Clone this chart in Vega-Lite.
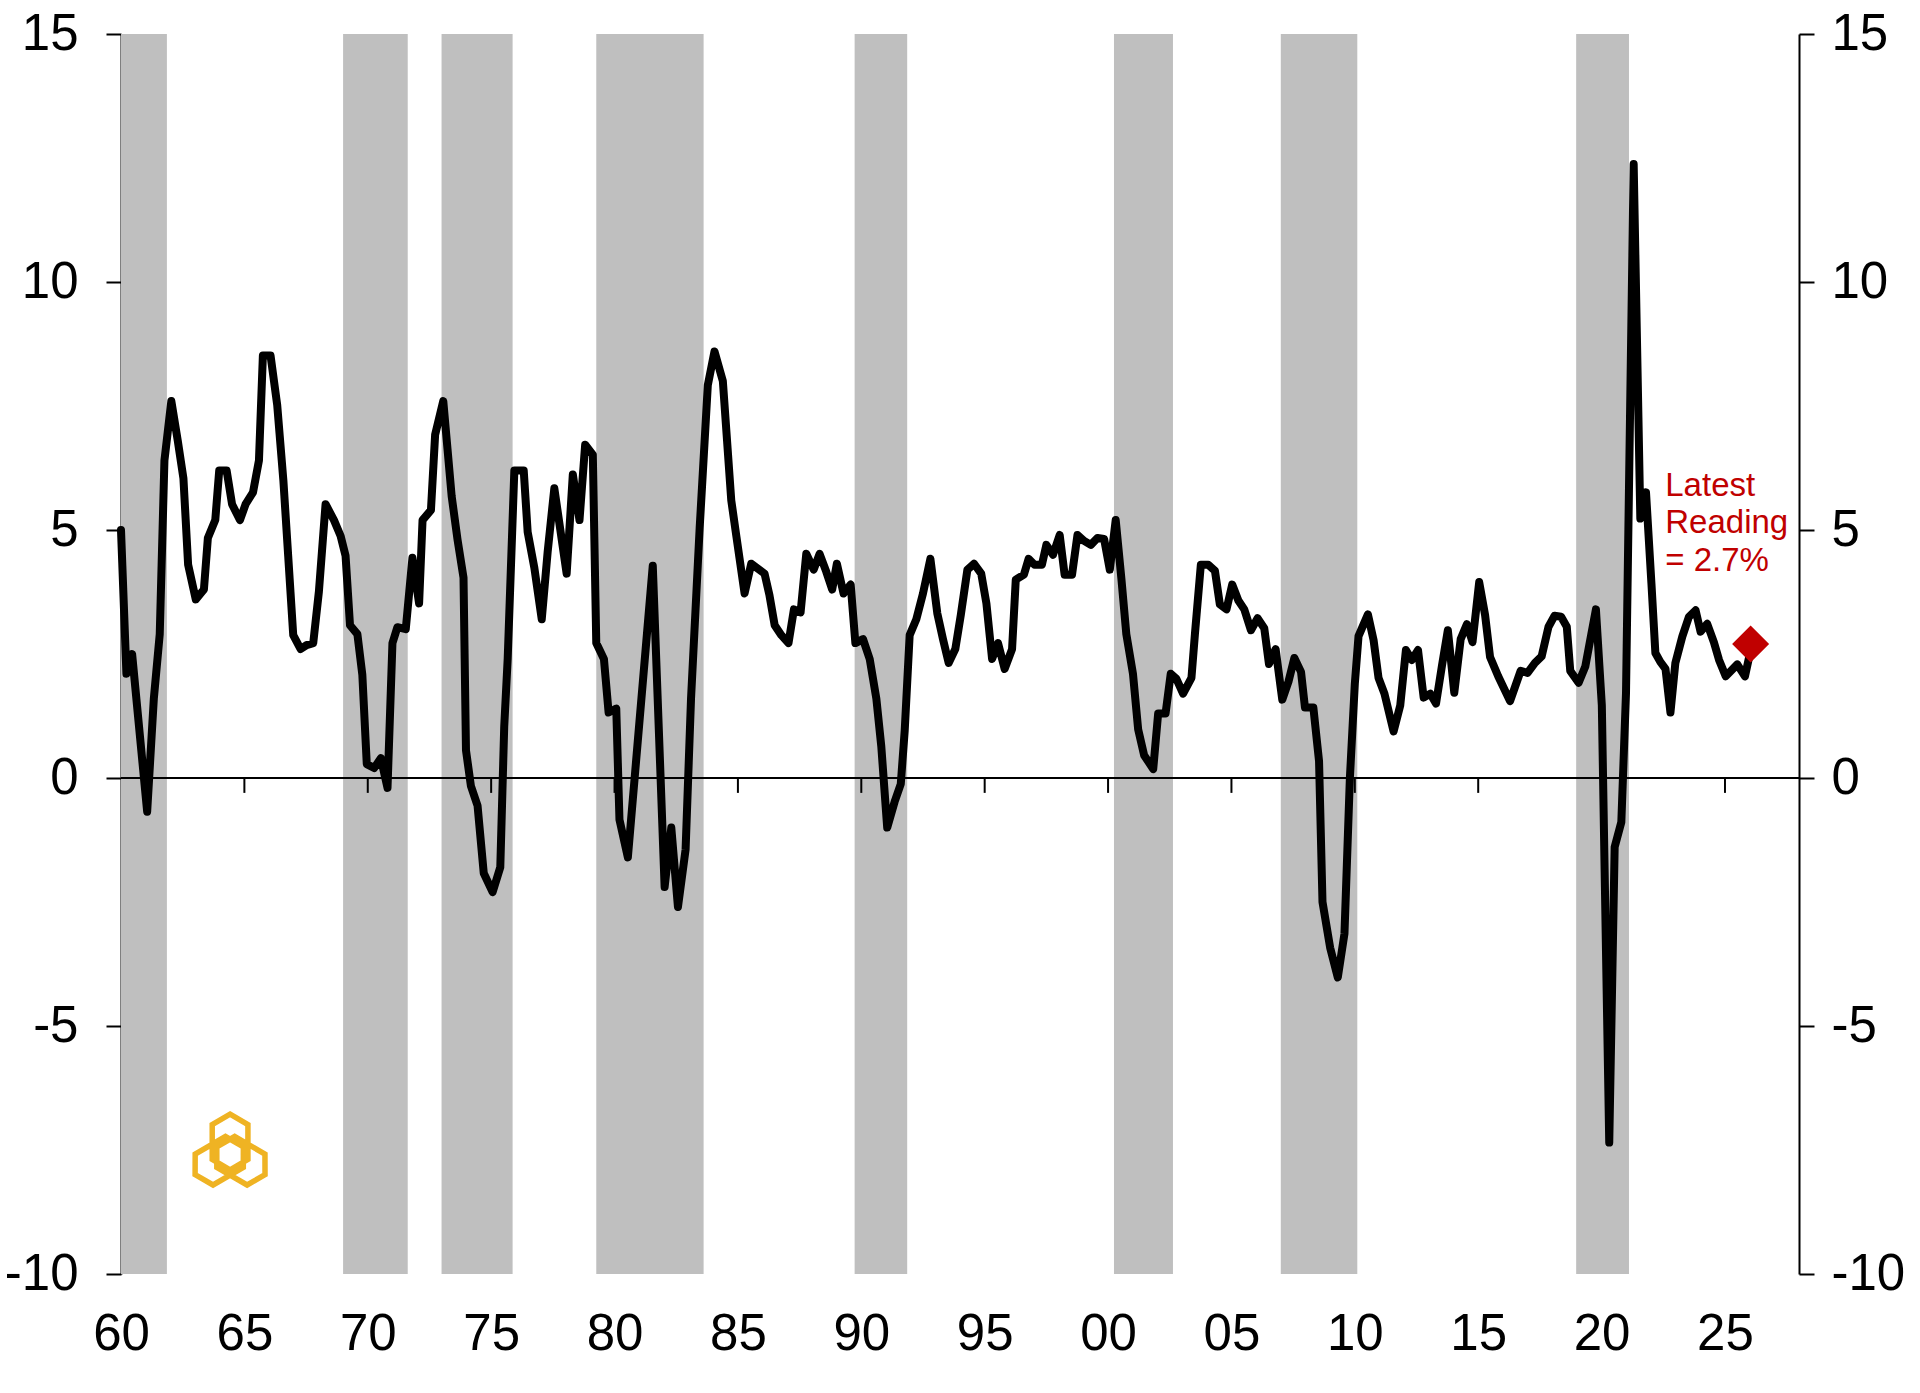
{
  "$schema": "https://vega.github.io/schema/vega-lite/v6.json",
  "width": 1678,
  "height": 1240,
  "autosize": {"type": "none"},
  "padding": {"left": 121, "top": 34, "right": 121, "bottom": 119},
  "background": "white",
  "config": {
    "view": {"stroke": null},
    "font": "Liberation Sans",
    "axis": {
      "labelFont": "Liberation Sans",
      "labelFontSize": 51,
      "labelColor": "#000000",
      "domainColor": "#000000",
      "domainWidth": 2,
      "tickColor": "#000000",
      "tickWidth": 2,
      "tickSize": 15,
      "grid": false
    }
  },
  "datasets": {
    "recessions": [
      {"start": 1960.0, "end": 1961.86},
      {"start": 1969.0, "end": 1971.62},
      {"start": 1972.99, "end": 1975.87},
      {"start": 1979.26, "end": 1983.61},
      {"start": 1989.73, "end": 1991.86},
      {"start": 2000.24, "end": 2002.63},
      {"start": 2007.0, "end": 2010.1},
      {"start": 2018.97, "end": 2021.11}
    ],
    "ticks": [
      {"year": 1965}, {"year": 1970}, {"year": 1975}, {"year": 1980}, {"year": 1985},
      {"year": 1990}, {"year": 1995}, {"year": 2000}, {"year": 2005}, {"year": 2010},
      {"year": 2015}, {"year": 2020}, {"year": 2025}
    ],
    "latest": [{"t": 2026.04, "v": 2.7}],
    "series": [
      {"t": 1960.0, "v": 5.0}, {"t": 1960.22, "v": 2.1}, {"t": 1960.45, "v": 2.5},
      {"t": 1961.06, "v": -0.68}, {"t": 1961.33, "v": 1.6}, {"t": 1961.57, "v": 2.9},
      {"t": 1961.76, "v": 6.4}, {"t": 1962.04, "v": 7.6}, {"t": 1962.3, "v": 6.8},
      {"t": 1962.53, "v": 6.04}, {"t": 1962.72, "v": 4.3}, {"t": 1963.03, "v": 3.6},
      {"t": 1963.36, "v": 3.8}, {"t": 1963.52, "v": 4.84}, {"t": 1963.82, "v": 5.2},
      {"t": 1963.98, "v": 6.2}, {"t": 1964.28, "v": 6.2}, {"t": 1964.5, "v": 5.52},
      {"t": 1964.82, "v": 5.2}, {"t": 1965.05, "v": 5.52}, {"t": 1965.35, "v": 5.76},
      {"t": 1965.59, "v": 6.4}, {"t": 1965.75, "v": 8.52}, {"t": 1966.06, "v": 8.52},
      {"t": 1966.33, "v": 7.52}, {"t": 1966.58, "v": 6.0}, {"t": 1966.98, "v": 2.88},
      {"t": 1967.28, "v": 2.6}, {"t": 1967.52, "v": 2.68}, {"t": 1967.79, "v": 2.72},
      {"t": 1968.02, "v": 3.76}, {"t": 1968.29, "v": 5.52}, {"t": 1968.63, "v": 5.2},
      {"t": 1968.9, "v": 4.88}, {"t": 1969.1, "v": 4.48}, {"t": 1969.28, "v": 3.08},
      {"t": 1969.58, "v": 2.9}, {"t": 1969.78, "v": 2.08}, {"t": 1969.96, "v": 0.28},
      {"t": 1970.26, "v": 0.2}, {"t": 1970.53, "v": 0.4}, {"t": 1970.8, "v": -0.2},
      {"t": 1971.0, "v": 2.72}, {"t": 1971.2, "v": 3.04}, {"t": 1971.54, "v": 3.0},
      {"t": 1971.81, "v": 4.44}, {"t": 1972.08, "v": 3.52}, {"t": 1972.22, "v": 5.2},
      {"t": 1972.56, "v": 5.4}, {"t": 1972.73, "v": 6.92}, {"t": 1973.06, "v": 7.6},
      {"t": 1973.23, "v": 6.64}, {"t": 1973.4, "v": 5.68}, {"t": 1973.64, "v": 4.8},
      {"t": 1973.88, "v": 4.04}, {"t": 1973.98, "v": 0.56}, {"t": 1974.18, "v": -0.16},
      {"t": 1974.45, "v": -0.56}, {"t": 1974.7, "v": -1.92}, {"t": 1975.06, "v": -2.3},
      {"t": 1975.37, "v": -1.8}, {"t": 1975.53, "v": 1.04}, {"t": 1975.67, "v": 2.4},
      {"t": 1975.94, "v": 6.2}, {"t": 1976.32, "v": 6.2}, {"t": 1976.48, "v": 4.96},
      {"t": 1976.75, "v": 4.24}, {"t": 1977.05, "v": 3.2}, {"t": 1977.29, "v": 4.56},
      {"t": 1977.56, "v": 5.84}, {"t": 1978.06, "v": 4.12}, {"t": 1978.31, "v": 6.12},
      {"t": 1978.58, "v": 5.2}, {"t": 1978.81, "v": 6.72}, {"t": 1979.12, "v": 6.52},
      {"t": 1979.26, "v": 2.72}, {"t": 1979.57, "v": 2.4}, {"t": 1979.76, "v": 1.32},
      {"t": 1980.07, "v": 1.4}, {"t": 1980.2, "v": -0.84}, {"t": 1980.54, "v": -1.6},
      {"t": 1981.55, "v": 4.28}, {"t": 1982.03, "v": -2.2}, {"t": 1982.3, "v": -1.0},
      {"t": 1982.57, "v": -2.6}, {"t": 1982.88, "v": -1.44}, {"t": 1983.1, "v": 1.6},
      {"t": 1983.45, "v": 5.04}, {"t": 1983.78, "v": 7.92}, {"t": 1984.05, "v": 8.6},
      {"t": 1984.39, "v": 8.0}, {"t": 1984.73, "v": 5.6}, {"t": 1984.93, "v": 4.9},
      {"t": 1985.27, "v": 3.72}, {"t": 1985.54, "v": 4.32}, {"t": 1986.08, "v": 4.12},
      {"t": 1986.28, "v": 3.68}, {"t": 1986.49, "v": 3.08}, {"t": 1986.76, "v": 2.88},
      {"t": 1987.05, "v": 2.72}, {"t": 1987.27, "v": 3.4}, {"t": 1987.54, "v": 3.34},
      {"t": 1987.77, "v": 4.52}, {"t": 1988.07, "v": 4.2}, {"t": 1988.31, "v": 4.52},
      {"t": 1988.58, "v": 4.16}, {"t": 1988.82, "v": 3.8}, {"t": 1989.01, "v": 4.32},
      {"t": 1989.28, "v": 3.72}, {"t": 1989.57, "v": 3.9}, {"t": 1989.76, "v": 2.72},
      {"t": 1990.07, "v": 2.8}, {"t": 1990.34, "v": 2.4}, {"t": 1990.61, "v": 1.6},
      {"t": 1990.81, "v": 0.64}, {"t": 1991.05, "v": -1.0}, {"t": 1991.35, "v": -0.48},
      {"t": 1991.6, "v": -0.12}, {"t": 1991.76, "v": 0.96}, {"t": 1991.96, "v": 2.88},
      {"t": 1992.23, "v": 3.2}, {"t": 1992.5, "v": 3.72}, {"t": 1992.8, "v": 4.42},
      {"t": 1993.08, "v": 3.32}, {"t": 1993.31, "v": 2.8}, {"t": 1993.54, "v": 2.32},
      {"t": 1993.81, "v": 2.6}, {"t": 1994.03, "v": 3.28}, {"t": 1994.3, "v": 4.2},
      {"t": 1994.57, "v": 4.32}, {"t": 1994.86, "v": 4.12}, {"t": 1995.07, "v": 3.52},
      {"t": 1995.3, "v": 2.4}, {"t": 1995.54, "v": 2.72}, {"t": 1995.81, "v": 2.2},
      {"t": 1996.11, "v": 2.6}, {"t": 1996.26, "v": 4.0}, {"t": 1996.59, "v": 4.1},
      {"t": 1996.78, "v": 4.42}, {"t": 1997.02, "v": 4.3}, {"t": 1997.32, "v": 4.3},
      {"t": 1997.5, "v": 4.7}, {"t": 1997.77, "v": 4.5}, {"t": 1998.04, "v": 4.9},
      {"t": 1998.24, "v": 4.1}, {"t": 1998.54, "v": 4.1}, {"t": 1998.76, "v": 4.9},
      {"t": 1999.03, "v": 4.78}, {"t": 1999.3, "v": 4.7}, {"t": 1999.57, "v": 4.84},
      {"t": 1999.84, "v": 4.82}, {"t": 2000.07, "v": 4.2}, {"t": 2000.31, "v": 5.2},
      {"t": 2000.54, "v": 4.02}, {"t": 2000.74, "v": 2.9}, {"t": 2001.01, "v": 2.1},
      {"t": 2001.22, "v": 0.98}, {"t": 2001.46, "v": 0.46}, {"t": 2001.83, "v": 0.18},
      {"t": 2002.03, "v": 1.3}, {"t": 2002.33, "v": 1.3}, {"t": 2002.54, "v": 2.1},
      {"t": 2002.77, "v": 2.0}, {"t": 2003.04, "v": 1.7}, {"t": 2003.38, "v": 2.02},
      {"t": 2003.52, "v": 2.9}, {"t": 2003.76, "v": 4.3}, {"t": 2004.06, "v": 4.3},
      {"t": 2004.33, "v": 4.18}, {"t": 2004.53, "v": 3.5}, {"t": 2004.8, "v": 3.4},
      {"t": 2005.03, "v": 3.9}, {"t": 2005.28, "v": 3.58}, {"t": 2005.52, "v": 3.4},
      {"t": 2005.79, "v": 2.98}, {"t": 2006.06, "v": 3.22}, {"t": 2006.33, "v": 3.02},
      {"t": 2006.52, "v": 2.3}, {"t": 2006.79, "v": 2.6}, {"t": 2007.06, "v": 1.58},
      {"t": 2007.31, "v": 1.94}, {"t": 2007.55, "v": 2.42}, {"t": 2007.82, "v": 2.14},
      {"t": 2007.98, "v": 1.42}, {"t": 2008.32, "v": 1.42}, {"t": 2008.55, "v": 0.34},
      {"t": 2008.69, "v": -2.5}, {"t": 2009.0, "v": -3.42}, {"t": 2009.31, "v": -4.02},
      {"t": 2009.58, "v": -3.14}, {"t": 2009.8, "v": 0.0}, {"t": 2010.0, "v": 1.9},
      {"t": 2010.15, "v": 2.86}, {"t": 2010.53, "v": 3.3}, {"t": 2010.76, "v": 2.78},
      {"t": 2010.96, "v": 2.02}, {"t": 2011.2, "v": 1.7}, {"t": 2011.57, "v": 0.94},
      {"t": 2011.84, "v": 1.46}, {"t": 2012.07, "v": 2.58}, {"t": 2012.31, "v": 2.38},
      {"t": 2012.56, "v": 2.58}, {"t": 2012.79, "v": 1.62}, {"t": 2013.06, "v": 1.7},
      {"t": 2013.29, "v": 1.5}, {"t": 2013.53, "v": 2.26}, {"t": 2013.77, "v": 2.98},
      {"t": 2014.03, "v": 1.72}, {"t": 2014.29, "v": 2.8}, {"t": 2014.54, "v": 3.1},
      {"t": 2014.77, "v": 2.74}, {"t": 2015.04, "v": 3.95}, {"t": 2015.28, "v": 3.28},
      {"t": 2015.48, "v": 2.44}, {"t": 2015.81, "v": 2.05}, {"t": 2016.29, "v": 1.55},
      {"t": 2016.72, "v": 2.16}, {"t": 2017.0, "v": 2.12}, {"t": 2017.3, "v": 2.32},
      {"t": 2017.57, "v": 2.45}, {"t": 2017.85, "v": 3.05}, {"t": 2018.09, "v": 3.27},
      {"t": 2018.36, "v": 3.25}, {"t": 2018.59, "v": 3.05}, {"t": 2018.73, "v": 2.16},
      {"t": 2019.07, "v": 1.92}, {"t": 2019.34, "v": 2.25}, {"t": 2019.77, "v": 3.4},
      {"t": 2020.01, "v": 1.46}, {"t": 2020.31, "v": -7.35}, {"t": 2020.53, "v": -1.39},
      {"t": 2020.8, "v": -0.89}, {"t": 2020.99, "v": 1.72}, {"t": 2021.3, "v": 12.38},
      {"t": 2021.57, "v": 5.23}, {"t": 2021.8, "v": 5.76}, {"t": 2022.02, "v": 3.92},
      {"t": 2022.18, "v": 2.52}, {"t": 2022.38, "v": 2.34}, {"t": 2022.59, "v": 2.2},
      {"t": 2022.79, "v": 1.32}, {"t": 2022.99, "v": 2.32}, {"t": 2023.27, "v": 2.85},
      {"t": 2023.54, "v": 3.25}, {"t": 2023.81, "v": 3.38}, {"t": 2024.01, "v": 2.95},
      {"t": 2024.28, "v": 3.11}, {"t": 2024.55, "v": 2.74}, {"t": 2024.76, "v": 2.38},
      {"t": 2025.03, "v": 2.05}, {"t": 2025.5, "v": 2.29}, {"t": 2025.81, "v": 2.05},
      {"t": 2026.04, "v": 2.58}
    ]
  },
  "resolve": {"axis": {"y": "independent"}},
  "layer": [
    {
      "data": {"name": "recessions"},
      "mark": {"type": "rect", "color": "#BFBFBF"},
      "encoding": {
        "x": {
          "field": "start", "type": "quantitative", "title": null,
          "scale": {"domain": [1960, 2028], "nice": false, "zero": false},
          "axis": {
            "orient": "bottom", "title": null, "domain": false, "ticks": false,
            "values": [1960, 1965, 1970, 1975, 1980, 1985, 1990, 1995, 2000, 2005, 2010, 2015, 2020, 2025],
            "labelExpr": "slice('' + datum.value, 2)",
            "labelFlush": false, "labelOverlap": false, "labelPadding": 35
          }
        },
        "x2": {"field": "end"},
        "y": {"datum": 15, "type": "quantitative", "scale": {"domain": [-10, 15], "nice": false, "zero": false}, "axis": null},
        "y2": {"datum": -10}
      }
    },
    {
      "data": {"name": "latest"},
      "mark": {"type": "rule", "color": "#000000", "strokeWidth": 2},
      "encoding": {
        "y": {"datum": 0, "type": "quantitative", "scale": {"domain": [-10, 15], "nice": false, "zero": false}, "axis": null}
      }
    },
    {
      "data": {"name": "ticks"},
      "mark": {"type": "rule", "color": "#000000", "strokeWidth": 2},
      "encoding": {
        "x": {
          "field": "year", "type": "quantitative", "title": null,
          "scale": {"domain": [1960, 2028], "nice": false, "zero": false},
          "axis": {
            "orient": "bottom", "title": null, "domain": false, "ticks": false,
            "values": [1960, 1965, 1970, 1975, 1980, 1985, 1990, 1995, 2000, 2005, 2010, 2015, 2020, 2025],
            "labelExpr": "slice('' + datum.value, 2)",
            "labelFlush": false, "labelOverlap": false, "labelPadding": 35
          }
        },
        "y": {"datum": 0, "type": "quantitative", "scale": {"domain": [-10, 15], "nice": false, "zero": false}, "axis": null},
        "y2": {"datum": -0.3}
      }
    },
    {
      "data": {"name": "series"},
      "mark": {"type": "line", "color": "#000000", "strokeWidth": 8, "strokeJoin": "round", "strokeCap": "round"},
      "encoding": {
        "x": {
          "field": "t", "type": "quantitative", "title": null,
          "scale": {"domain": [1960, 2028], "nice": false, "zero": false},
          "axis": {
            "orient": "bottom", "title": null, "domain": false, "ticks": false,
            "values": [1960, 1965, 1970, 1975, 1980, 1985, 1990, 1995, 2000, 2005, 2010, 2015, 2020, 2025],
            "labelExpr": "slice('' + datum.value, 2)",
            "labelFlush": false, "labelOverlap": false, "labelPadding": 35
          }
        },
        "y": {
          "field": "v", "type": "quantitative",
          "scale": {"domain": [-10, 15], "nice": false, "zero": false},
          "axis": {
            "orient": "left", "title": null, "values": [-10, -5, 0, 5, 10, 15],
            "labelExpr": "'' + datum.value", "labelPadding": 28, "labelOverlap": false
          }
        }
      }
    },
    {
      "data": {"name": "latest"},
      "mark": {"type": "point", "shape": "diamond", "filled": true, "color": "#C00000", "opacity": 1, "size": 1370},
      "encoding": {
        "x": {
          "field": "t", "type": "quantitative", "title": null,
          "scale": {"domain": [1960, 2028], "nice": false, "zero": false},
          "axis": {
            "orient": "bottom", "title": null, "domain": false, "ticks": false,
            "values": [1960, 1965, 1970, 1975, 1980, 1985, 1990, 1995, 2000, 2005, 2010, 2015, 2020, 2025],
            "labelExpr": "slice('' + datum.value, 2)",
            "labelFlush": false, "labelOverlap": false, "labelPadding": 35
          }
        },
        "y": {
          "field": "v", "type": "quantitative",
          "scale": {"domain": [-10, 15], "nice": false, "zero": false},
          "axis": {
            "orient": "right", "title": null, "values": [-10, -5, 0, 5, 10, 15],
            "labelExpr": "'' + datum.value", "labelPadding": 17, "labelOverlap": false
          }
        }
      }
    },
    {
      "data": {"name": "latest"},
      "mark": {
        "type": "text", "text": ["Latest", "Reading", "= 2.7%"],
        "align": "left", "baseline": "middle", "font": "Liberation Sans",
        "fontSize": 33, "lineHeight": 37.5, "color": "#C00000"
      },
      "encoding": {
        "x": {
          "datum": 2022.58, "type": "quantitative", "title": null,
          "scale": {"domain": [1960, 2028], "nice": false, "zero": false},
          "axis": {
            "orient": "bottom", "title": null, "domain": false, "ticks": false,
            "values": [1960, 1965, 1970, 1975, 1980, 1985, 1990, 1995, 2000, 2005, 2010, 2015, 2020, 2025],
            "labelExpr": "slice('' + datum.value, 2)",
            "labelFlush": false, "labelOverlap": false, "labelPadding": 35
          }
        },
        "y": {"datum": 5.89, "type": "quantitative", "scale": {"domain": [-10, 15], "nice": false, "zero": false}, "axis": null}
      }
    },
    {
      "data": {"name": "latest"},
      "mark": {
        "type": "point",
        "shape": "M0,-0.99L0.5,-0.7L0.5,0.28L0,0.57L-0.5,0.28L-0.5,-0.7ZM0.979,0.705L0.477,0.993L-0.371,0.503L-0.372,-0.075L0.129,-0.363L0.977,0.127ZM-0.979,0.705L-0.477,0.993L0.371,0.503L0.372,-0.075L-0.129,-0.363L-0.977,0.127Z",
        "filled": false, "stroke": "#EFB323", "strokeWidth": 5.5, "opacity": 1, "size": 5100, "strokeJoin": "miter"
      },
      "encoding": {
        "x": {
          "datum": 1964.42, "type": "quantitative", "title": null,
          "scale": {"domain": [1960, 2028], "nice": false, "zero": false},
          "axis": {
            "orient": "bottom", "title": null, "domain": false, "ticks": false,
            "values": [1960, 1965, 1970, 1975, 1980, 1985, 1990, 1995, 2000, 2005, 2010, 2015, 2020, 2025],
            "labelExpr": "slice('' + datum.value, 2)",
            "labelFlush": false, "labelOverlap": false, "labelPadding": 35
          }
        },
        "y": {"datum": -7.49, "type": "quantitative", "scale": {"domain": [-10, 15], "nice": false, "zero": false}, "axis": null}
      }
    }
  ]
}
